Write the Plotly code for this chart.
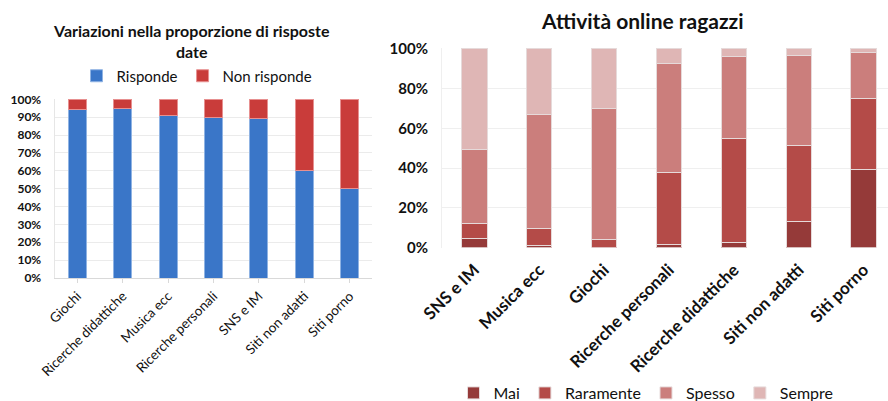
import plotly.graph_objects as go

# Left chart data
left_categories = ["Giochi", "Ricerche didattiche", "Musica ecc", "Ricerche personali",
                   "SNS e IM", "Siti non adatti", "Siti porno"]
risponde = [94.5, 95, 91, 90, 89.5, 60, 50.3]
non_risponde = [100 - v for v in risponde]
left_yticks = list(range(0, 101, 10))

# Right chart data
right_categories = ["SNS e IM", "Musica ecc", "Giochi", "Ricerche personali",
                    "Ricerche didattiche", "Siti non adatti", "Siti porno"]
mai = [4.5, 1.2, 0.0, 1.5, 2.7, 13.0, 39.3]
raramente = [7.7, 8.3, 4.0, 36.2, 52.0, 38.2, 35.9]
spesso = [37.0, 57.5, 66.0, 54.8, 41.3, 45.5, 22.8]
sempre = [round(100 - a - b - c, 1) for a, b, c in zip(mai, raramente, spesso)]
right_yticks = list(range(0, 101, 20))

W, H = 888, 401
FONT = "Lato"

def px_x(p):
    return p / W

def px_y(p):
    return 1 - p / H

fig = go.Figure()

# Left chart
fig.add_trace(go.Bar(x=left_categories, y=risponde, name="Risponde",
                     marker=dict(color="#3A76C8", line=dict(color="#8FB3E3", width=1)),
                     width=0.4, xaxis="x", yaxis="y", legend="legend"))
fig.add_trace(go.Bar(x=left_categories, y=non_risponde, name="Non risponde",
                     marker=dict(color="#C93C3A", line=dict(color="#E79090", width=1)),
                     width=0.4, xaxis="x", yaxis="y", legend="legend"))

# Right chart
for name, vals, col in [("Mai", mai, "#953A39"), ("Raramente", raramente, "#B44B48"),
                        ("Spesso", spesso, "#CB7E7C"), ("Sempre", sempre, "#DFB6B5")]:
    fig.add_trace(go.Bar(x=right_categories, y=vals, name=name,
                         marker=dict(color=col, line=dict(color="#E6DADA", width=1)),
                         width=0.39, xaxis="x2", yaxis="y2", legend="legend2"))

fig.update_layout(
    width=W, height=H,
    margin=dict(l=0, r=0, t=0, b=0, autoexpand=False),
    paper_bgcolor="white", plot_bgcolor="white",
    barmode="stack",
    font=dict(family=FONT, color="#111111"),
    xaxis=dict(domain=[px_x(54.6), px_x(372.4)], range=[-0.5, 6.5],
               tickangle=-45, tickfont=dict(size=13.5, family=FONT),
               showline=True, linecolor="#D9D9D9", ticks="outside", ticklen=4,
               tickcolor="#D9D9D9", showgrid=False, anchor="y", fixedrange=True,
               automargin=False),
    yaxis=dict(domain=[px_y(278), px_y(98.5)], range=[0, 100.5],
               tickvals=left_yticks, ticktext=[f"{v}%" for v in left_yticks],
               tickfont=dict(size=12, family=FONT, weight="bold"),
               ticklabelstandoff=10,
               showgrid=True, gridcolor="#EBEBEB", zeroline=False,
               showline=True, linecolor="#E6E6E6", anchor="x", fixedrange=True,
               automargin=False),
    xaxis2=dict(domain=[px_x(442), 1.0], range=[-0.5, 6.376],
                tickangle=-45, tickfont=dict(size=17, family=FONT, weight="bold"),
                ticklabelstandoff=8,
                showline=False, showgrid=False, anchor="y2", fixedrange=True,
                automargin=False),
    yaxis2=dict(domain=[px_y(247.7), px_y(47.7)], range=[0, 100.5],
                tickvals=right_yticks, ticktext=[f"{v}%" for v in right_yticks],
                tickfont=dict(size=15, family=FONT, weight="bold"),
                ticklabelstandoff=10,
                showgrid=True, gridcolor="#EFEFEF", zeroline=False,
                showline=True, linecolor="#EFEFEF", anchor="x2", fixedrange=True,
                automargin=False),
    legend=dict(orientation="h", x=px_x(197), y=px_y(76), xanchor="center", yanchor="middle",
                font=dict(size=15, family=FONT), itemwidth=30, traceorder="normal",
                bgcolor="rgba(0,0,0,0)"),
    legend2=dict(orientation="h", x=px_x(646), y=px_y(393), xanchor="center", yanchor="middle",
                 font=dict(size=16, family=FONT), itemwidth=30, traceorder="normal",
                 bgcolor="rgba(0,0,0,0)"),
    annotations=[
        dict(text="Variazioni nella proporzione di risposte<br>date", x=px_x(191), y=px_y(41),
             xref="paper", yref="paper", showarrow=False, xanchor="center", yanchor="middle",
             font=dict(size=16, family=FONT, weight="bold")),
        dict(text="Attività online ragazzi", x=px_x(642), y=px_y(20),
             xref="paper", yref="paper", showarrow=False, xanchor="center", yanchor="middle",
             font=dict(size=21, family=FONT, weight="bold")),
    ],
    showlegend=True,
)

fig.write_html("out.html")
